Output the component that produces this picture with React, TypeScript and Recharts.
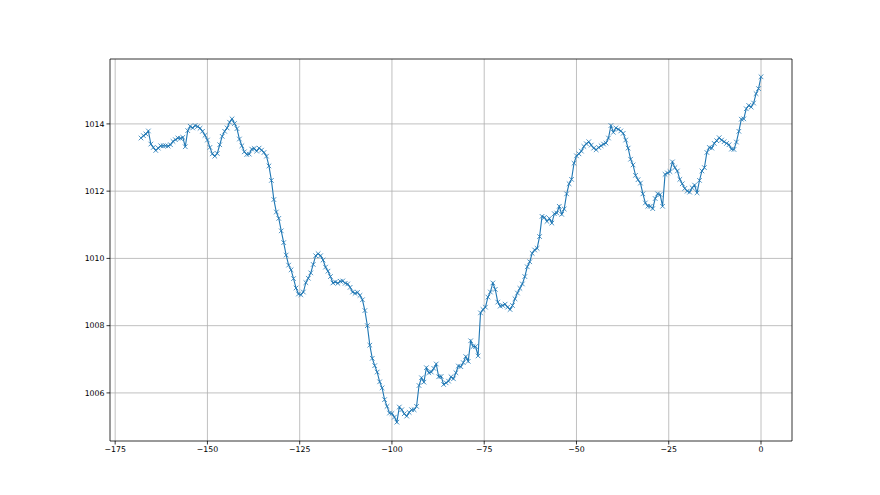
import { LineChart, Line, XAxis, YAxis, CartesianGrid, ReferenceArea } from 'recharts';

// pressure readings (hPa), evenly spaced over the last 168 hours
const pressure = [
  1013.58, 1013.65, 1013.7, 1013.79, 1013.4, 1013.3, 1013.21, 1013.28, 1013.35, 1013.35,
  1013.35, 1013.34, 1013.38, 1013.48, 1013.53, 1013.58, 1013.57, 1013.6, 1013.32, 1013.8,
  1013.93, 1013.88, 1013.95, 1013.92, 1013.87, 1013.78, 1013.66, 1013.52, 1013.3, 1013.11,
  1013.04, 1013.12, 1013.38, 1013.63, 1013.78, 1013.88, 1014.05, 1014.15, 1014.01, 1013.86,
  1013.55, 1013.35, 1013.17, 1013.09, 1013.1, 1013.25, 1013.27, 1013.19, 1013.28, 1013.22,
  1013.15, 1013.04, 1012.75, 1012.32, 1011.75, 1011.38, 1011.19, 1010.82, 1010.47, 1010.1,
  1009.8, 1009.66, 1009.4, 1009.12, 1008.94, 1008.92, 1009.0, 1009.28, 1009.41, 1009.57,
  1009.82, 1010.08, 1010.14, 1010.08, 1009.95, 1009.74, 1009.62, 1009.46, 1009.27, 1009.3,
  1009.26, 1009.32, 1009.33, 1009.26, 1009.24, 1009.14, 1009.0, 1008.96, 1008.99, 1008.9,
  1008.77, 1008.45, 1008.0, 1007.42, 1007.03, 1006.81, 1006.62, 1006.33, 1006.15, 1005.8,
  1005.6, 1005.4, 1005.39, 1005.28, 1005.13, 1005.58, 1005.5, 1005.38, 1005.31, 1005.42,
  1005.5, 1005.5, 1005.6, 1006.22, 1006.45, 1006.32, 1006.75, 1006.6, 1006.62, 1006.73,
  1006.86, 1006.48, 1006.49, 1006.25, 1006.3, 1006.35, 1006.48, 1006.42, 1006.6, 1006.8,
  1006.78, 1006.9, 1007.08, 1006.94, 1007.55, 1007.38, 1007.38, 1007.1, 1008.38, 1008.48,
  1008.55, 1008.85, 1009.0, 1009.27, 1009.08, 1008.7, 1008.58, 1008.6, 1008.64, 1008.55,
  1008.48, 1008.6, 1008.8, 1008.97, 1009.11, 1009.24, 1009.46, 1009.75, 1009.9, 1010.15,
  1010.25, 1010.3, 1010.65, 1011.25, 1011.22, 1011.1, 1011.19, 1011.05, 1011.33, 1011.35,
  1011.55, 1011.31, 1011.47, 1011.92, 1012.22, 1012.35, 1012.83, 1013.05, 1013.11, 1013.19,
  1013.33, 1013.41, 1013.47, 1013.37, 1013.28, 1013.23, 1013.3, 1013.35, 1013.4, 1013.43,
  1013.58, 1013.95, 1013.75, 1013.88, 1013.84, 1013.79, 1013.72, 1013.52, 1013.28, 1012.95,
  1012.78, 1012.47, 1012.34, 1012.24, 1011.92, 1011.65, 1011.55, 1011.55, 1011.48, 1011.78,
  1011.92, 1011.9, 1011.55, 1012.5, 1012.54, 1012.58, 1012.87, 1012.7, 1012.6, 1012.35,
  1012.22, 1012.08, 1012.0, 1011.97, 1012.1, 1012.18, 1011.95, 1012.32, 1012.6, 1012.7,
  1013.15, 1013.3, 1013.28, 1013.42, 1013.5, 1013.59, 1013.52, 1013.47, 1013.42, 1013.38,
  1013.25, 1013.24, 1013.46, 1013.78, 1014.14, 1014.15, 1014.45, 1014.55, 1014.5, 1014.62,
  1014.9, 1015.05, 1015.4,
];

const xTicks = [-175, -150, -125, -100, -75, -50, -25, 0];
const yTicks = [1006, 1008, 1010, 1012, 1014];

const data = pressure.map((p, i) => ({
  hour: -168 + (i * 168) / (pressure.length - 1),
  p,
}));

const X_DOMAIN: [number, number] = [-176.4, 8.4];
const Y_DOMAIN: [number, number] = [1004.57, 1015.93];

const XMark = (props: any) => {
  const { cx, cy, index } = props;
  if (cx == null || cy == null) return <g key={index} />;
  const s = 2.3;
  return (
    <path
      key={index}
      d={`M${cx - s},${cy - s}L${cx + s},${cy + s}M${cx - s},${cy + s}L${cx + s},${cy - s}`}
      stroke="#1f77b4"
      strokeWidth={0.8}
      fill="none"
    />
  );
};

const tickStyle = { fontSize: 7.8, fill: '#000', fontFamily: 'DejaVu Sans' };
// matplotlib draws a real minus sign
const fmtX = (v: number) => String(v).replace('-', '\u2212');

export default function App() {
  return (
    <div style={{ width: 880, height: 495, background: '#fff' }}>
      <style>{'body{margin:0}'}</style>
      <LineChart
        width={880}
        height={495}
        data={data}
        margin={{ top: 59, right: 88, left: 60, bottom: 24 }}
      >
        <CartesianGrid stroke="#b0b0b0" strokeWidth={0.8} horizontalValues={yTicks} verticalValues={xTicks} />
        <XAxis
          dataKey="hour"
          type="number"
          domain={X_DOMAIN}
          ticks={xTicks}
          tickFormatter={fmtX}
          allowDataOverflow
          height={30}
          axisLine={false}
          tickSize={3.5}
          tickLine={{ stroke: '#000', strokeWidth: 0.8 }}
          tick={tickStyle}
        />
        <YAxis
          type="number"
          domain={Y_DOMAIN}
          ticks={yTicks}
          allowDataOverflow
          width={50}
          axisLine={false}
          tickSize={3.5}
          tickLine={{ stroke: '#000', strokeWidth: 0.8 }}
          tick={tickStyle}
        />
        <ReferenceArea
          x1={X_DOMAIN[0]}
          x2={X_DOMAIN[1]}
          y1={Y_DOMAIN[0]}
          y2={Y_DOMAIN[1]}
          fill="none"
          stroke="#000"
          strokeWidth={0.8}
          ifOverflow="visible"
        />
        <Line
          dataKey="p"
          stroke="#1f77b4"
          strokeWidth={1.1}
          dot={XMark}
          activeDot={false}
          isAnimationActive={false}
        />
      </LineChart>
    </div>
  );
}
